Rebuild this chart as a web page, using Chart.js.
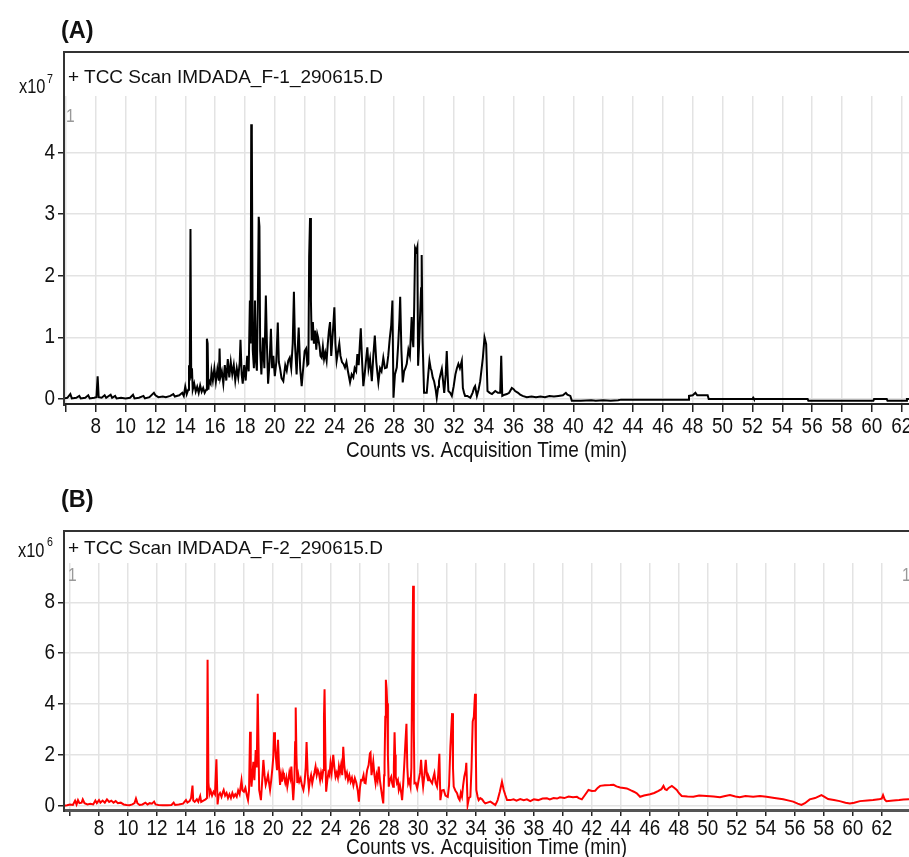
<!DOCTYPE html>
<html>
<head>
<meta charset="utf-8">
<script src="https://cdn.jsdelivr.net/npm/chart.js@4.4.1/dist/chart.umd.min.js"></script>
<style>
body{margin:0;background:#fff;width:909px;height:857px;overflow:hidden;position:relative;font-family:'Liberation Sans',Arial,sans-serif;color:#111}
canvas{position:absolute;left:0}
.lbl{position:absolute;white-space:nowrap;line-height:1}
.nar{transform:scaleX(0.82);transform-origin:left top}
.frame{position:absolute;border-top:2px solid #333;border-left:2px solid #333;pointer-events:none}
.gray{color:#999}
</style>
</head>
<body>
<canvas id="chA" width="909" height="470" style="top:0"></canvas>
<canvas id="chB" width="909" height="387" style="top:470px"></canvas>

<div class="lbl" style="left:61px;top:19px;font-size:23.5px;font-weight:bold">(A)</div>
<div class="frame" style="left:63px;top:51px;width:860px;height:353px"></div>
<div class="lbl nar" style="left:19px;top:76px;font-size:20px">x10</div>
<div class="lbl nar" style="left:47px;top:72px;font-size:13px">7</div>
<div class="lbl" style="left:68px;top:67px;font-size:19px">+ TCC Scan IMDADA_F-1_290615.D</div>
<div class="lbl nar gray" style="left:66px;top:105.5px;font-size:19px">1</div>

<div class="lbl" style="left:61px;top:488px;font-size:23.5px;font-weight:bold">(B)</div>
<div class="frame" style="left:63px;top:530px;width:860px;height:280px"></div>
<div class="lbl nar" style="left:18px;top:540px;font-size:20px">x10</div>
<div class="lbl nar" style="left:47px;top:535px;font-size:13px">6</div>
<div class="lbl" style="left:68px;top:538px;font-size:19px">+ TCC Scan IMDADA_F-2_290615.D</div>
<div class="lbl nar gray" style="left:68px;top:565px;font-size:19px">1</div>
<div class="lbl nar gray" style="left:902px;top:565px;font-size:19px">1</div>

<script>
// ---- data (A: counts x10^7, B: counts x10^6) ----
const xTitle = 'Counts vs. Acquisition Time (min)';
const xTicks = [6,8,10,12,14,16,18,20,22,24,26,28,30,32,34,36,38,40,42,44,46,48,50,52,54,56,58,60,62];
const xTickLabels = ['','8','10','12','14','16','18','20','22','24','26','28','30','32','34','36','38','40','42','44','46','48','50','52','54','56','58','60','62'];
const yTicksA = [0,1,2,3,4];
const yTickLabelsA = ['0','1','2','3','4'];
const yTicksB = [0,2,4,6,8];
const yTickLabelsB = ['0','2','4','6','8'];

const timesA = [5.9,6.1,6.3,6.4,6.7,6.9,7.0,7.3,7.5,7.6,7.9,8.05,8.13,8.2,8.4,8.6,8.7,9.0,9.1,9.3,9.4,9.7,10.0,10.3,10.5,10.6,10.9,11.2,11.3,11.6,11.9,12.0,12.2,12.5,12.7,13.0,13.2,13.3,13.6,13.8,13.9,14.0,14.1,14.2,14.25,14.3,14.35,14.4,14.45,14.5,14.6,14.7,14.8,14.9,15.0,15.1,15.2,15.3,15.4,15.45,15.5,15.55,15.6,15.7,15.76,15.85,15.95,16.05,16.15,16.25,16.3,16.35,16.45,16.55,16.65,16.75,16.85,16.95,17.05,17.15,17.25,17.35,17.45,17.55,17.65,17.7,17.78,17.85,17.95,18.05,18.15,18.25,18.33,18.38,18.42,18.46,18.52,18.6,18.67,18.74,18.8,18.86,18.92,18.97,19.02,19.1,19.2,19.3,19.4,19.47,19.55,19.65,19.74,19.82,19.9,20.0,20.1,20.2,20.27,20.35,20.45,20.57,20.7,20.8,20.9,21.0,21.1,21.2,21.28,21.35,21.46,21.53,21.6,21.7,21.8,21.9,22.0,22.1,22.18,22.25,22.3,22.36,22.42,22.47,22.55,22.62,22.7,22.78,22.85,22.9,23.0,23.06,23.14,23.22,23.3,23.38,23.47,23.55,23.62,23.7,23.78,23.85,23.92,23.99,24.06,24.14,24.22,24.32,24.4,24.5,24.6,24.7,24.8,24.9,25.04,25.15,25.26,25.35,25.45,25.53,25.62,25.7,25.76,25.85,25.93,26.02,26.1,26.2,26.28,26.38,26.5,26.6,26.7,26.8,26.94,27.05,27.15,27.27,27.38,27.5,27.6,27.7,27.8,27.88,27.95,28.05,28.17,28.27,28.35,28.4,28.48,28.57,28.66,28.75,28.84,28.95,29.05,29.17,29.22,29.28,29.34,29.4,29.48,29.55,29.6,29.67,29.73,29.8,29.84,29.9,30.0,30.18,30.28,30.36,30.44,30.5,30.58,30.67,30.78,30.85,30.95,31.0,31.1,31.19,31.27,31.35,31.45,31.52,31.58,31.63,31.75,31.86,31.98,32.1,32.2,32.3,32.4,32.53,32.6,32.68,32.75,32.9,33.1,33.25,33.35,33.42,33.54,33.65,33.76,33.86,33.94,34.05,34.1,34.16,34.25,34.4,34.55,34.77,34.95,35.1,35.17,35.24,35.4,35.55,35.7,35.88,36.0,36.1,36.3,36.44,36.6,36.88,37.2,37.5,37.8,38.1,38.4,38.7,39.0,39.3,39.5,39.6,39.8,39.9,40.5,41.2,41.5,42.0,42.5,43.0,43.2,45.0,47.7,47.75,48.0,48.18,48.3,49.0,49.07,52.0,52.05,52.1,55.7,55.75,60.1,60.15,61.0,61.05,62.3,62.35,62.5];
const countsA = [0.01,0.02,0.08,0.01,0.02,0.05,0.01,0.02,0.06,0.01,0.02,0.03,0.37,0.03,0.02,0.06,0.02,0.07,0.02,0.05,0.01,0.02,0.01,0.02,0.07,0.01,0.02,0.05,0.01,0.03,0.1,0.06,0.03,0.04,0.03,0.05,0.08,0.04,0.06,0.1,0.05,0.2,0.08,0.15,0.55,0.3,2.76,0.35,0.5,0.15,0.25,0.12,0.2,0.1,0.22,0.12,0.18,0.1,0.15,0.98,0.9,0.15,0.3,0.25,0.45,0.3,0.5,0.28,0.48,0.3,0.82,0.35,0.45,0.25,0.55,0.3,0.65,0.35,0.6,0.4,0.55,0.3,0.5,0.35,0.6,0.96,0.4,0.25,0.55,0.3,0.7,0.45,1.6,0.9,4.46,4.3,0.8,0.5,1.6,0.6,0.46,1.5,2.96,2.8,0.78,0.4,1.0,0.5,1.68,0.9,0.25,0.6,1.14,0.5,0.7,0.37,0.6,1.24,0.6,0.5,0.34,0.29,0.55,0.46,0.62,0.67,0.5,0.9,1.74,0.9,0.4,0.8,1.16,0.5,0.21,0.5,0.78,0.82,0.55,0.57,2.3,2.94,1.6,0.95,1.25,0.9,1.11,0.8,1.05,1.0,0.85,0.7,0.67,0.85,0.65,0.75,0.62,0.9,1.1,1.25,0.7,0.95,1.2,1.49,0.9,0.62,0.75,0.9,0.7,0.6,0.57,0.51,0.6,0.45,0.27,0.4,0.35,0.5,0.45,0.73,0.55,0.9,1.15,0.6,0.21,0.4,0.6,0.84,0.5,0.65,0.29,0.7,1.03,0.6,0.27,0.5,0.45,0.67,0.5,0.51,0.7,0.98,1.2,1.6,0.02,0.4,0.51,0.9,1.3,1.66,0.8,0.27,0.45,0.5,0.57,0.8,0.7,1.33,1.0,0.84,1.5,2.45,2.4,2.47,0.54,0.9,1.33,1.8,2.34,0.95,0.1,0.1,0.4,0.62,0.5,0.46,0.35,0.29,0.15,0.02,0.2,0.29,0.4,0.49,0.3,0.1,0.4,0.78,0.4,0.13,0.1,0.05,0.2,0.4,0.5,0.57,0.5,0.62,0.18,0.1,0.05,0.05,0.02,0.1,0.18,0.21,0.05,0.15,0.29,0.5,0.67,1.0,0.95,0.89,0.13,0.1,0.08,0.13,0.1,0.1,0.7,0.05,0.07,0.08,0.1,0.18,0.16,0.13,0.1,0.07,0.05,0.03,0.04,0.03,0.04,0.03,0.05,0.04,0.05,0.06,0.1,0.07,0.05,-0.03,-0.03,-0.02,-0.03,-0.02,-0.03,-0.02,-0.01,-0.01,-0.01,0.05,0.06,0.1,0.06,0.06,0.0,0.0,0.02,0.0,0.0,-0.03,-0.03,0.0,0.0,-0.03,-0.03,0.0,0.0];

const timesB = [5.6,5.8,6.0,6.2,6.35,6.45,6.55,6.65,6.8,6.88,7.0,7.2,7.4,7.6,7.75,7.85,8.0,8.1,8.25,8.4,8.55,8.7,8.85,9.0,9.15,9.3,9.5,9.7,9.9,10.1,10.3,10.45,10.55,10.65,10.8,11.0,11.2,11.35,11.5,11.65,11.8,11.9,12.1,12.4,12.7,13.0,13.15,13.25,13.5,13.8,14.0,14.1,14.25,14.35,14.45,14.5,14.6,14.75,14.85,14.98,15.05,15.2,15.35,15.45,15.49,15.55,15.62,15.7,15.8,15.9,16.0,16.1,16.18,16.25,16.35,16.45,16.55,16.6,16.7,16.8,16.9,17.0,17.1,17.2,17.3,17.4,17.5,17.6,17.7,17.83,17.9,18.0,18.1,18.2,18.28,18.35,18.42,18.47,18.52,18.58,18.65,18.72,18.81,18.88,18.95,19.0,19.05,19.12,19.17,19.25,19.34,19.42,19.5,19.58,19.66,19.73,19.8,19.88,19.96,20.02,20.08,20.14,20.2,20.28,20.35,20.42,20.49,20.56,20.62,20.7,20.76,20.85,20.92,20.99,21.06,21.13,21.2,21.27,21.33,21.4,21.48,21.53,21.57,21.62,21.68,21.75,21.82,21.91,22.0,22.1,22.18,22.26,22.32,22.4,22.48,22.55,22.63,22.71,22.78,22.86,22.94,23.02,23.1,23.17,23.25,23.32,23.4,23.47,23.52,23.56,23.62,23.67,23.75,23.83,23.9,23.97,24.05,24.16,24.24,24.32,24.4,24.48,24.55,24.62,24.7,24.78,24.85,24.92,25.01,25.1,25.18,25.27,25.36,25.45,25.55,25.65,25.75,25.85,25.93,26.0,26.08,26.16,26.25,26.32,26.39,26.45,26.5,26.6,26.69,26.73,26.8,26.92,27.0,27.08,27.15,27.22,27.3,27.38,27.47,27.55,27.61,27.67,27.7,27.75,27.79,27.84,27.88,27.93,27.99,28.06,28.16,28.22,28.29,28.34,28.39,28.43,28.47,28.55,28.62,28.68,28.76,28.85,28.91,28.98,29.07,29.14,29.21,29.27,29.33,29.4,29.49,29.55,29.6,29.67,29.72,29.76,29.85,29.95,30.05,30.15,30.22,30.3,30.36,30.45,30.54,30.62,30.7,30.75,30.85,30.98,31.06,31.14,31.22,31.32,31.4,31.48,31.55,31.65,31.78,31.9,32.06,32.15,32.24,32.3,32.36,32.42,32.47,32.58,32.7,32.8,32.88,32.96,33.04,33.12,33.2,33.3,33.34,33.43,33.52,33.62,33.7,33.78,33.86,33.94,34.0,34.03,34.12,34.19,34.3,34.43,34.55,34.65,34.8,35.0,35.15,35.34,35.45,35.5,35.65,35.8,35.92,36.03,36.15,36.38,36.6,36.8,37.06,37.3,37.52,37.75,38.0,38.3,38.6,38.9,39.1,39.36,39.6,39.8,40.1,40.4,40.7,40.97,41.1,41.31,41.5,41.77,42.0,42.23,42.4,42.57,42.9,43.26,43.5,43.7,43.95,44.2,44.41,44.7,44.9,45.1,45.33,45.6,46.02,46.3,46.6,46.8,46.94,47.05,47.17,47.3,47.52,47.7,47.86,48.0,48.2,48.6,49.0,49.4,49.92,50.4,50.84,51.2,51.53,51.9,52.2,52.6,53.13,53.6,54.05,54.6,55.2,55.6,55.89,56.2,56.46,56.7,57.03,57.4,57.84,58.05,58.3,58.7,59.1,59.5,59.8,60.1,60.5,61.0,61.4,61.8,62.0,62.09,62.2,62.32,62.8,63.2,63.5,63.88];
const countsB = [0.0,0.02,0.05,0.03,0.2,0.05,0.22,0.1,0.12,0.25,0.1,0.05,0.08,0.05,0.2,0.1,0.22,0.12,0.2,0.12,0.25,0.15,0.2,0.12,0.18,0.1,0.12,0.05,0.03,0.02,0.05,0.1,0.28,0.1,0.03,0.05,0.12,0.05,0.1,0.08,0.16,0.05,0.03,0.02,0.02,0.03,0.12,0.03,0.05,0.08,0.22,0.12,0.18,0.3,0.79,0.2,0.15,0.25,0.15,0.38,0.15,0.2,0.25,0.3,5.74,0.9,0.45,0.6,0.4,0.55,0.45,1.83,0.05,0.4,0.5,0.35,0.55,0.62,0.4,0.5,0.3,0.45,0.3,0.5,0.35,0.45,0.35,0.6,0.45,0.99,0.6,0.55,0.7,0.4,0.22,0.6,2.91,1.2,0.75,1.2,1.73,1.0,2.19,1.5,4.4,2.5,0.62,0.4,0.22,0.9,1.8,1.2,0.82,1.0,1.21,0.9,0.62,1.0,1.47,1.9,2.89,2.5,1.93,1.4,2.59,1.5,0.82,1.2,0.95,1.3,1.14,0.9,1.1,0.75,1.0,1.3,1.1,1.54,0.9,0.22,1.0,2.5,3.86,2.0,0.89,1.2,0.95,1.08,0.8,0.62,0.9,1.5,2.5,1.2,0.68,1.0,1.2,0.88,1.1,1.3,1.54,1.2,1.4,1.28,1.0,1.3,1.08,1.4,3.5,4.58,2.0,0.55,1.0,1.3,1.2,1.67,1.3,2.0,1.5,1.14,1.3,1.1,1.54,1.3,1.6,1.2,2.32,1.6,1.14,1.3,1.0,1.2,0.94,1.1,0.8,1.08,0.9,0.6,0.16,0.7,1.01,1.0,1.2,0.9,0.88,1.2,1.41,1.6,2.06,2.09,1.2,1.73,1.2,0.88,1.2,1.0,1.54,1.0,0.62,0.3,0.09,1.2,1.67,3.5,4.95,4.6,4.03,2.0,0.75,1.0,1.14,0.9,0.75,1.5,2.89,2.0,1.14,0.9,1.0,0.62,0.8,0.5,0.22,0.8,1.73,2.5,3.22,1.5,0.88,1.0,0.75,1.5,4.88,8.65,3.0,0.88,0.9,0.68,1.0,1.3,1.8,1.1,0.75,1.2,1.8,1.2,1.0,1.14,1.0,0.88,1.1,1.28,0.9,0.75,1.2,2.04,0.22,0.6,0.62,0.4,0.35,0.8,2.32,3.0,3.64,1.5,0.75,0.6,0.49,0.3,0.22,0.5,0.35,0.8,1.14,1.4,1.69,0.03,0.3,0.35,1.5,3.31,3.5,4.4,2.0,0.62,0.35,0.22,0.3,0.25,0.15,0.09,0.12,0.16,0.1,0.03,0.15,0.22,0.55,0.94,0.62,0.42,0.22,0.22,0.25,0.2,0.26,0.22,0.25,0.18,0.25,0.22,0.28,0.29,0.25,0.3,0.28,0.33,0.3,0.36,0.33,0.35,0.3,0.25,0.4,0.62,0.58,0.59,0.7,0.78,0.8,0.81,0.82,0.76,0.72,0.7,0.68,0.6,0.55,0.49,0.35,0.4,0.45,0.5,0.58,0.65,0.78,0.65,0.62,0.7,0.78,0.7,0.62,0.5,0.38,0.36,0.35,0.4,0.38,0.36,0.33,0.38,0.42,0.36,0.33,0.38,0.35,0.38,0.35,0.3,0.25,0.2,0.16,0.08,0.03,0.1,0.25,0.3,0.42,0.35,0.26,0.22,0.18,0.12,0.09,0.12,0.18,0.2,0.22,0.25,0.28,0.42,0.25,0.18,0.2,0.22,0.24,0.25];

const FONT = "'Liberation Sans',Arial,sans-serif";

// no narrow font installed: squeeze canvas text horizontally to look like Arial Narrow
function condense(canvas, k) {
  const ctx = canvas.getContext('2d');
  const fill = ctx.fillText;
  ctx.fillText = function(text, x, y) {
    this.save();
    this.translate(x, y);
    this.scale(k, 1);
    fill.call(this, text, 0, 0);
    this.restore();
  };
}

function buildChart(id, times, counts, cfg) {
  const cv = document.getElementById(id);
  condense(cv, 0.86);
  const pts = times.map((t, i) => ({x: t, y: counts[i]}));
  return new Chart(cv, {
    type: 'line',
    data: {datasets: [{data: pts, borderColor: cfg.color, borderWidth: cfg.lw, pointRadius: 0, tension: 0, fill: false}]},
    options: {
      responsive: false, animation: false, devicePixelRatio: 1,
      layout: {padding: {top: cfg.top, left: 0, right: 0, bottom: 0}},
      plugins: {legend: {display: false}, tooltip: {enabled: false}},
      scales: {
        x: {
          type: 'linear', min: cfg.xmin, max: cfg.xmax,
          afterBuildTicks: s => { s.ticks = xTicks.map(v => ({value: v})); },
          afterFit: s => { s.height = cfg.xh; s.paddingLeft = 0; s.paddingRight = 0; },
          ticks: {autoSkip: false, maxRotation: 0, minRotation: 0, padding: cfg.xpad, color: '#111',
                  font: {family: FONT, size: 22, lineHeight: 1},
                  callback: (v, i) => xTickLabels[i]},
          grid: {color: '#e3e3e3', lineWidth: 1.5, tickLength: cfg.tl, tickColor: '#222', tickWidth: 1.5},
          border: {display: true, color: cfg.axisColor, width: cfg.axisW},
          title: {display: true, text: xTitle, color: '#111',
                  font: {family: FONT, size: 22, lineHeight: 0.8}, padding: {top: 0, bottom: cfg.tpad}}
        },
        y: {
          min: cfg.ymin, max: cfg.ymax,
          afterBuildTicks: s => { s.ticks = cfg.yticks.map(v => ({value: v})); },
          afterFit: s => { s.width = 64; },
          ticks: {padding: 3, color: '#111', font: {family: FONT, size: 22, lineHeight: 1},
                  callback: (v, i) => cfg.ylabels[i]},
          grid: {color: '#e3e3e3', lineWidth: 1.5, tickLength: 6, tickColor: '#222', tickWidth: 1.5},
          border: {display: true, color: '#333', width: 2}
        }
      }
    }
  });
}

buildChart('chA', timesA, countsA, {
  color: '#000', lw: 2, top: 96, xh: 66, xpad: 4, tl: 8, tpad: 10.7,
  axisColor: '#222', axisW: 2,
  xmin: 5.876, xmax: 62.49, ymin: -0.081, ymax: 4.92,
  yticks: yTicksA, ylabels: yTickLabelsA
});
buildChart('chB', timesB, countsB, {
  color: '#ff0000', lw: 2, top: 93, xh: 47, xpad: 1.5, tl: 6, tpad: 0,
  axisColor: '#555', axisW: 3,
  xmin: 5.585, xmax: 63.88, ymin: -0.169, ymax: 9.546,
  yticks: yTicksB, ylabels: yTickLabelsB
});
</script>
</body>
</html>
